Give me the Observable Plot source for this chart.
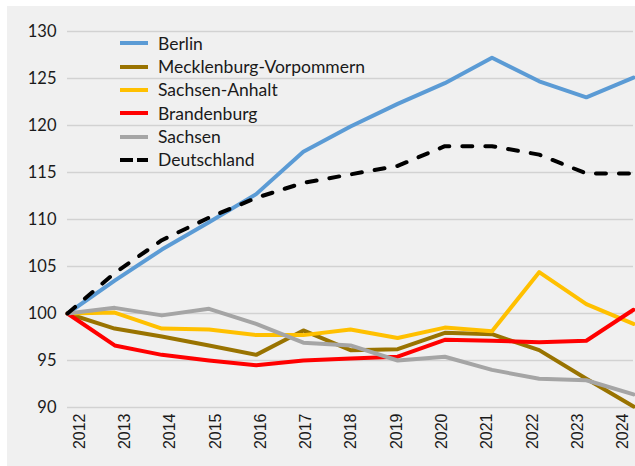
<!DOCTYPE html>
<html>
<head>
<meta charset="utf-8">
<script src="https://cdn.jsdelivr.net/npm/d3@7"></script>
<script src="https://cdn.jsdelivr.net/npm/@observablehq/plot@0.6"></script>
<style>
  html, body { margin: 0; padding: 0; background: #ffffff; }
  #wrap { position: relative; width: 635px; height: 466px; overflow: hidden; }
  #chart { position: absolute; left: 7px; top: 6px; }
  #xlabels { position: absolute; left: 0; top: 413px; }
  #legend { position: absolute; left: 0; top: 0; font-family: Lato, "Noto Sans", sans-serif; font-size: 17.5px; color: #1a1a1a; }
  .row { position: absolute; left: 120px; height: 24px; display: flex; align-items: center; white-space: nowrap; }
  .row svg { margin-right: 10px; }
</style>
</head>
<body>
<div id="wrap">
  <div id="chart"></div>
  <div id="xlabels"></div>
  <div id="legend"></div>
</div>
<script>
const years = [2012, 2013, 2014, 2015, 2016, 2017, 2018, 2019, 2020, 2021, 2022, 2023, 2024];
const seriesNames = ["Berlin", "Mecklenburg-Vorpommern", "Sachsen-Anhalt", "Brandenburg", "Sachsen", "Deutschland"];
const seriesColors = ["#5b9bd5", "#997300", "#ffc000", "#ff0000", "#a5a5a5", "#000000"];
const berlin = [100, 103.5, 106.8, 109.7, 112.7, 117.2, 119.9, 122.3, 124.5, 127.2, 124.7, 123.0, 125.1];
const mecklenburg = [100, 98.4, 97.55, 96.6, 95.6, 98.2, 96.1, 96.2, 97.95, 97.8, 96.1, 93.05, 90.1];
const sachsenAnhalt = [100, 100.1, 98.4, 98.3, 97.7, 97.7, 98.3, 97.4, 98.5, 98.1, 104.4, 101.0, 98.9];
const brandenburg = [100, 96.6, 95.6, 95.0, 94.5, 95.0, 95.2, 95.4, 97.2, 97.1, 96.95, 97.1, 100.4];
const sachsen = [100, 100.6, 99.8, 100.5, 98.9, 96.9, 96.6, 95.0, 95.4, 94.0, 93.05, 92.9, 91.4];
const deutschland = [100, 104.3, 107.8, 110.2, 112.3, 113.9, 114.8, 115.7, 117.8, 117.8, 116.9, 114.9, 114.9];
const yTicks = [90, 95, 100, 105, 110, 115, 120, 125, 130];

const allValues = [berlin, mecklenburg, sachsenAnhalt, brandenburg, sachsen, deutschland];
const table = seriesNames.map((name, i) => allValues[i].map((v, j) => ({series: name, year: years[j], value: v})));

const lineMarks = seriesNames.map((name, i) => Plot.line(table[i], {
  x: "year", y: "value",
  stroke: seriesColors[i],
  strokeWidth: 4,
  strokeDasharray: name === "Deutschland" ? "10,13" : null,
  strokeLinecap: "round",
  strokeLinejoin: "round"
}));

const chart = Plot.plot({
  width: 628,
  height: 460,
  marginLeft: 60,
  marginRight: 2,
  marginTop: 25,
  marginBottom: 59,
  style: { background: "#f0f0f0", fontFamily: "Lato, 'Noto Sans', sans-serif", overflow: "visible" },
  x: { domain: [2012, 2024], axis: null },
  y: { domain: [90, 130], axis: null },
  marks: [
    Plot.ruleY(yTicks, { stroke: "#d2d2d2", strokeWidth: 1.5 }),
    Plot.text(yTicks, { y: d => d, frameAnchor: "left", dx: -11, textAnchor: "end", text: d => String(d), fontSize: 16.5, fill: "#1a1a1a" }),
    ...lineMarks
  ]
});
document.getElementById("chart").appendChild(chart);

// Category labels (spaced as in the reference's category axis)
const xAxis = Plot.plot({
  width: 635,
  height: 45,
  marginLeft: 79,
  marginRight: 12.5,
  marginTop: 0,
  marginBottom: 0,
  style: { background: "transparent", overflow: "visible" },
  x: { domain: [2012, 2024], axis: null },
  y: { axis: null },
  marks: [
    Plot.text(years, { x: d => d, frameAnchor: "top", rotate: -90, textAnchor: "end", lineAnchor: "middle", text: d => String(d), fontSize: 16, fontFamily: "'Liberation Sans', Arial, sans-serif", fill: "#1a1a1a" })
  ]
});
document.getElementById("xlabels").appendChild(xAxis);

const legend = document.getElementById("legend");
seriesNames.forEach((name, i) => {
  const row = document.createElement("div");
  row.className = "row";
  row.style.top = (43.3 + i * 23.33 - 12) + "px";
  const dash = name === "Deutschland" ? 'stroke-dasharray="13,4"' : "";
  row.innerHTML = `<svg width="28" height="8"><line x1="0" y1="4" x2="28" y2="4" stroke="${seriesColors[i]}" stroke-width="4" ${dash}/></svg><span>${name}</span>`;
  legend.appendChild(row);
});
</script>
</body>
</html>
